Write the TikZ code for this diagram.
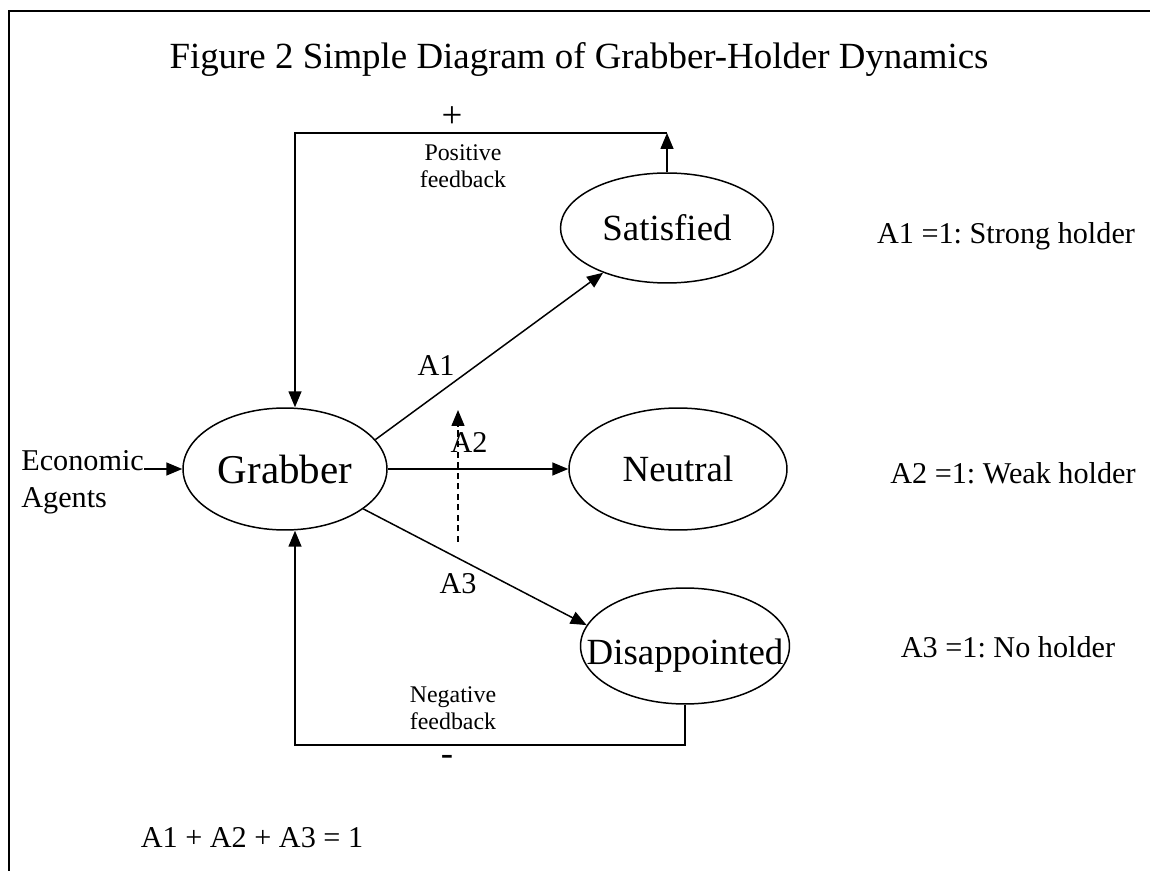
\documentclass[tikz,border=0pt]{standalone}
\usepackage{fontspec}
\setmainfont{Liberation Serif}
\usetikzlibrary{arrows.meta, shapes.geometric}

\tikzset{
    state/.style={draw, ellipse, inner sep=0pt, line width=0.85pt, font=\fontsize{21}{25}\selectfont},
    tip/.style={-{Triangle[length=0.32cm, width=0.26cm]}, line width=0.85pt},
    lbl/.style={inner sep=0pt, font=\fontsize{17.2}{21}\selectfont},
    sign/.style={inner sep=0pt, font=\fontsize{21}{25}\selectfont},
    fbtext/.style={inner sep=0pt, align=center, font=\fontsize{13.6}{15.3}\selectfont},
}

\begin{document}
\frenchspacing
\begin{tikzpicture}[x=0.02cm, y=-0.02cm]
    \useasboundingbox (0,0) rectangle (1150,871);
    \draw[line width=0.85pt] (9,871) -- (9,11) -- (1150,11);

    \node[anchor=base, inner sep=0pt, font=\fontsize{21}{25}\selectfont] at (579,69) (title) {Figure 2 Simple Diagram of Grabber-Holder Dynamics};

    \node[state, minimum width=4.08cm, minimum height=2.44cm, font=\fontsize{23.3}{28}\selectfont] at (285,469) (grab) {Grabber};
    \node[state, minimum width=4.26cm, minimum height=2.2cm] at (667,228) (sat) {Satisfied};
    \node[state, minimum width=4.36cm, minimum height=2.44cm] at (678,469) (neu) {Neutral};
    \node[state, minimum width=4.18cm, minimum height=2.32cm] at (685,646) (dis) {\makebox[0pt]{\raisebox{-0.38cm}[0pt][0pt]{Disappointed}}};

    \node[lbl, align=left, anchor=west] at (21,482) (econ) {Economic\\Agents};
    \draw[tip] (econ.east |- grab.west) -- (grab.west);

    \draw[tip] (grab.18) -- (sat.215);
    \draw[tip] (grab.east) -- (neu.west);
    \draw[tip] (grab.-27) -- (dis.168);

    \node[lbl, anchor=base] at (436,376) (a1) {A1};
    \node[lbl, anchor=base] at (469,453) (a2) {A2};
    \node[lbl, anchor=base] at (458,593) (a3) {A3};

    % dashed arrow through A2
    \coordinate (dlo) at (458,542);
    \coordinate (dhi) at (458,410);
    \draw[tip, dash pattern=on 3.5pt off 2.5pt] (dlo) -- (dhi);

    % positive feedback loop
    \coordinate (posL) at (295,133);
    \draw[tip] (sat.north) -- (sat.north |- posL);
    \draw[tip] (sat.north |- posL) -- (posL) -- (posL |- grab.north);
    \node[sign] at (452,117) (plus) {+};
    \node[fbtext] at (463,166) (posfb) {Positive\\feedback};

    % negative feedback loop
    \coordinate (negL) at (295,745);
    \draw[tip] (dis.south) -- (dis.south |- negL) -- (negL) -- (negL |- grab.south);
    \node[fbtext] at (453,708) (negfb) {Negative\\feedback};
    \node[sign, anchor=base] at (447,765) (minus) {-};

    \node[lbl, anchor=base] at (1006,244) (r1) {A1 =1: Strong holder};
    \node[lbl, anchor=base] at (1013,483) (r2) {A2 =1: Weak holder};
    \node[lbl, anchor=base] at (1008,657) (r3) {A3 =1: No holder};

    \node[lbl, anchor=base] at (252,847) (sum) {A1 + A2 + A3 = 1};
\end{tikzpicture}
\end{document}
